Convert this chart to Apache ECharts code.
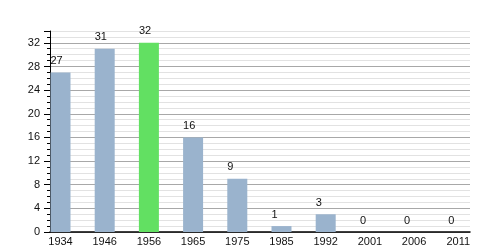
<!DOCTYPE html>
<html><head><meta charset="utf-8">
<script src="https://cdn.jsdelivr.net/npm/echarts@6/dist/echarts.min.js"></script>
<style>html,body{margin:0;padding:0;background:#fff}#c{width:500px;height:250px}</style>
</head><body><div id="c"></div>
<script>
const categories = ['1934','1946','1956','1965','1975','1985','1992','2001','2006','2011'];
const values = [27,31,32,16,9,1,3,0,0,0];
const highlightCategory = '1956';
const yTickLabels = [0,4,8,12,16,20,24,28,32];
const yMajorTicks = [0,4,8,12,16,20,24,28,32,34];

const chart = echarts.init(document.getElementById('c'), null, {renderer:'canvas'});
const font = 'Liberation Sans, Arial, sans-serif';
const minorColors = ['#a8a8a8','#e2e2e2','#e2e2e2','#e2e2e2'];
chart.setOption({
  animation:false,
  grid:{left:50,right:30,top:31,bottom:18},
  xAxis:{
    type:'value', min:-0.2376, max:9.265,
    axisLine:{show:true,onZero:false,lineStyle:{color:'#000',width:1.5}},
    axisTick:{show:false},
    splitLine:{show:false},
    axisLabel:{customValues:categories.map((c,i)=>i),formatter:v=>categories[Math.round(v)]||'',
      color:'#111',fontSize:11,fontFamily:font,margin:4}
  },
  yAxis:[{
    type:'value',min:0,max:34,interval:1,
    axisLine:{show:true,onZero:false,lineStyle:{color:'#000',width:1}},
    axisTick:{show:true,length:3,lineStyle:{color:'#000'}},
    axisLabel:{show:false},
    splitLine:{show:true,lineStyle:{color:minorColors,width:1}}
  },{
    type:'value',min:0,max:34,position:'left',
    axisLine:{show:false,onZero:false},
    axisTick:{show:true,length:6,customValues:yMajorTicks,lineStyle:{color:'#000'}},
    axisLabel:{customValues:yTickLabels,color:'#111',fontSize:11,fontFamily:font,margin:10},
    splitLine:{show:false}
  }],
  series:[{
    type:'bar',
    barWidth:20,
    data:values.map((v,i)=>({value:[i,v],itemStyle:{color:categories[i]===highlightCategory?'#62e062':'#9ab3cd'}})),
    label:{show:true,position:'top',distance:6,align:'left',offset:[-10,0],color:'#111',fontSize:11,fontFamily:font,formatter:p=>p.value[1]}
  }]
});
</script></body></html>
